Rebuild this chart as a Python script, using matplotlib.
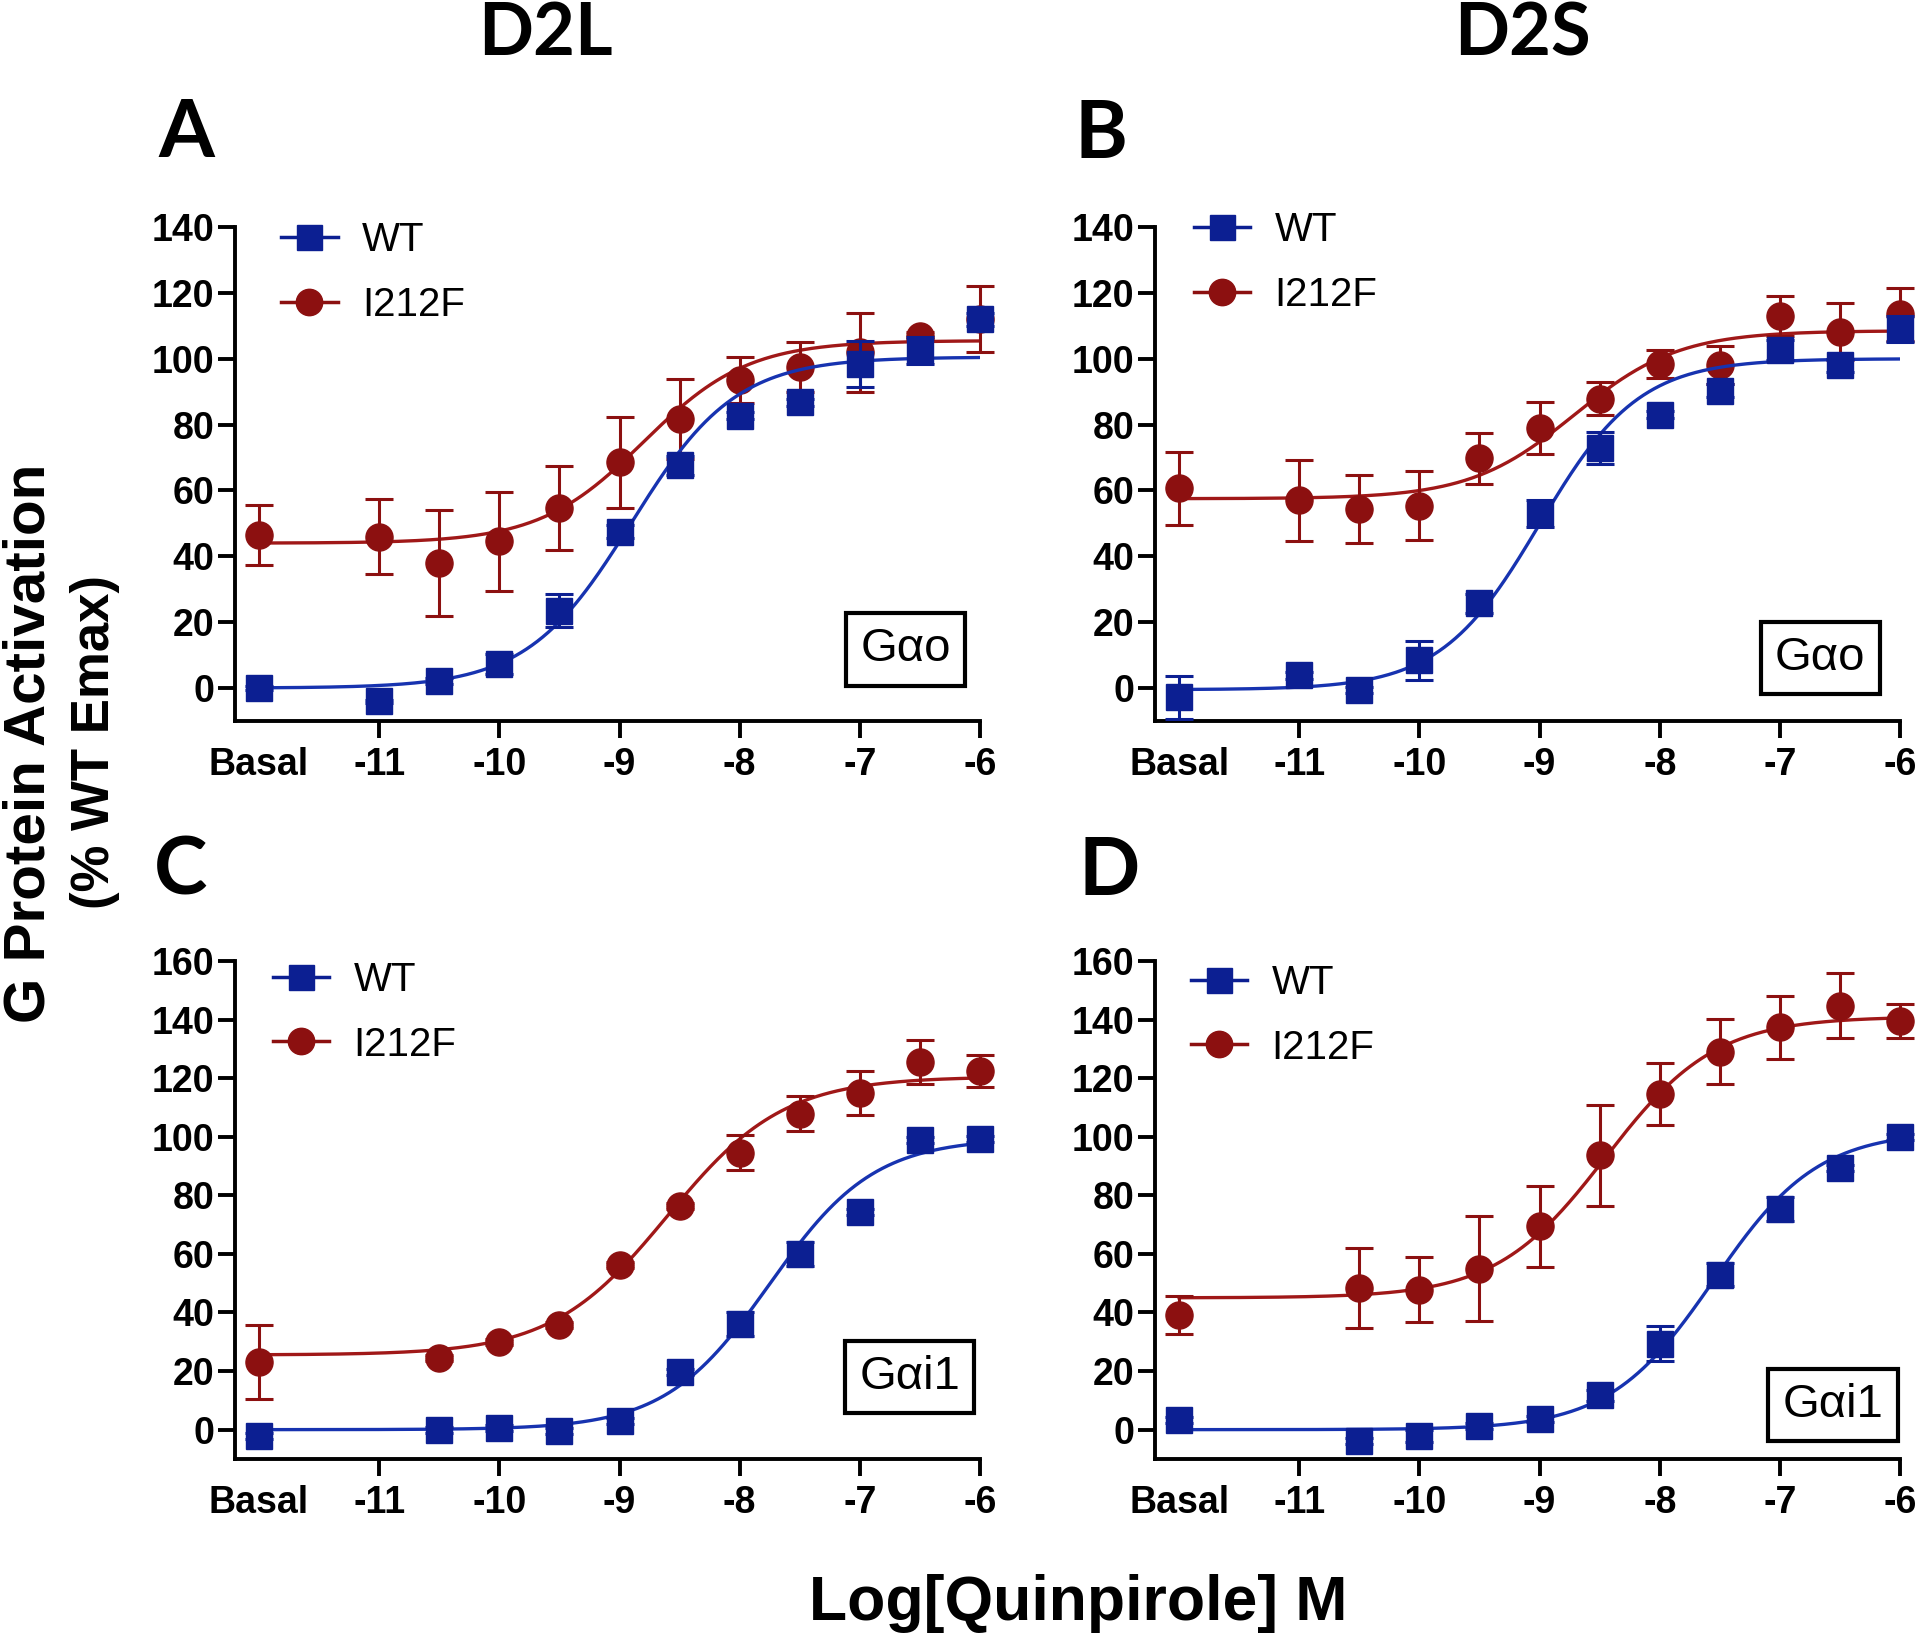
import matplotlib.pyplot as plt
from matplotlib.lines import Line2D
import numpy as np

plt.rcParams['font.family'] = ['Liberation Sans', 'DejaVu Sans']

# log[quinpirole]; "Basal" is plotted at -12
x_ab = [-12, -11, -10.5, -10, -9.5, -9, -8.5, -8, -7.5, -7, -6.5, -6]
x_cd = [-12, -10.5, -10, -9.5, -9, -8.5, -8, -7.5, -7, -6.5, -6]
xtick_vals = [-12, -11, -10, -9, -8, -7, -6]
xtick_labels = ['Basal', '-11', '-10', '-9', '-8', '-7', '-6']

# A: D2L, Gao
a_wt = [0, -4, 2.2, 7.3, 23.5, 47.5, 67.6, 82.7, 86.8, 98.5, 102.5, 112]
a_wt_err = [0.5, 0.5, 1, 3, 5, 2, 3, 1, 1, 7, 4, 2]
a_mut = [46.5, 46, 38, 44.6, 54.7, 68.5, 81.7, 93.5, 97.5, 102, 107, 112]
a_mut_err = [9, 11.5, 16, 15, 12.7, 13.8, 12, 7, 7.5, 12, 1, 10]
# B: D2S, Gao
b_wt = [-2.8, 3.9, -0.6, 8.4, 25.7, 53, 72.9, 83, 90.3, 102.6, 98, 109]
b_wt_err = [6.5, 1, 1, 6, 3, 4, 5, 1, 2, 3, 2, 4]
b_mut = [60.6, 57, 54.3, 55.4, 69.8, 79, 87.8, 98.4, 98, 113, 108.2, 113.5]
b_mut_err = [11, 12.3, 10.3, 10.4, 7.7, 7.8, 5, 4.3, 5.8, 6, 8.6, 8]
# C: D2L, Gai1
c_wt = [-2.3, 0, 0.6, -0.6, 3.1, 19.8, 36.1, 60, 74.2, 99, 99.3]
c_wt_err = [1, 1, 1, 1, 1, 1, 4, 4, 1, 1, 1]
c_mut = [23, 24.4, 29.9, 35.8, 56.3, 76.5, 94.6, 107.8, 115, 125.4, 122.4]
c_mut_err = [12.6, 1, 1, 1, 1, 1, 6, 6, 7.6, 7.5, 5.5]
# D: D2S, Gai1
d_wt = [3.3, -3.9, -2.2, 1.3, 3.5, 11.7, 29.4, 52.9, 75.4, 89.3, 100]
d_wt_err = [1, 1, 2, 1, 1, 2, 6, 4, 4, 1, 1]
d_mut = [39.3, 48.4, 47.8, 55, 69.4, 93.6, 114.5, 129.1, 137.3, 144.8, 139.6]
d_mut_err = [6.5, 13.6, 11, 17.9, 13.7, 17.2, 10.6, 11, 10.7, 11, 5.8]

# fitted curves: bottom, top, logEC50, hill slope
a_wt_fit = [0, 100.5, -8.9, 1.0]
a_mut_fit = [44, 105.5, -8.8, 1.0]
b_wt_fit = [-0.5, 100, -9.0, 1.05]
b_mut_fit = [57.5, 108.5, -8.71, 1.0]
c_wt_fit = [0, 99.5, -7.75, 1.0]
c_mut_fit = [25.5, 120.5, -8.6, 0.9]
d_wt_fit = [0, 102, -7.55, 1.0]
d_mut_fit = [45, 141, -8.45, 0.95]

BLUE = '#0c1f92'
BLUE_LINE = '#1733b0'
RED = '#8c1010'
RED_LINE = '#a01818'


def curve(p, x):
    bottom, top, logec50, hill = p
    return bottom + (top - bottom) / (1 + 10 ** ((logec50 - x) * hill))


panels = [
    # rect, x, wt, wt_err, mut, mut_err, fits, ymax, legend anchor, box pos, label
    ([0.1224, 0.5617, 0.388, 0.3003], x_ab, a_wt, a_wt_err, a_mut, a_mut_err,
     a_wt_fit, a_mut_fit, 140, (0.062, 1.012), (0.90, 0.145), 'G\u03b1o'),
    ([0.6016, 0.5617, 0.388, 0.3003], x_ab, b_wt, b_wt_err, b_mut, b_mut_err,
     b_wt_fit, b_mut_fit, 140, (0.052, 1.032), (0.893, 0.127), 'G\u03b1o'),
    ([0.1224, 0.1131, 0.388, 0.3027], x_cd, c_wt, c_wt_err, c_mut, c_mut_err,
     c_wt_fit, c_mut_fit, 160, (0.051, 1.000), (0.906, 0.165), 'G\u03b1i1'),
    ([0.6016, 0.1131, 0.388, 0.3027], x_cd, d_wt, d_wt_err, d_mut, d_mut_err,
     d_wt_fit, d_mut_fit, 160, (0.048, 0.994), (0.91, 0.109), 'G\u03b1i1'),
]

fig = plt.figure(figsize=(19.2, 16.45), dpi=100)
xs = np.linspace(-12, -6, 400)

for (rect, x, wt, wt_err, mut, mut_err, wt_fit, mut_fit, ymax,
     leg_pos, box_pos, gname) in panels:
    ax = fig.add_axes(rect)
    ax.plot(xs, curve(mut_fit, xs), color=RED_LINE, lw=2.4, zorder=2)
    ax.errorbar(x, mut, yerr=mut_err, fmt='o', color=RED, ms=19.5,
                elinewidth=2.2, capsize=10, capthick=2.2, clip_on=False, zorder=3)
    ax.plot(xs, curve(wt_fit, xs), color=BLUE_LINE, lw=2.4, zorder=4)
    ax.errorbar(x, wt, yerr=wt_err, fmt='s', color=BLUE, ms=18.5,
                elinewidth=2.2, capsize=10, capthick=2.2, clip_on=False, zorder=5)

    ax.set_xlim(-12.2, -6)
    ax.set_ylim(-10, ymax)
    ax.set_yticks(range(0, ymax + 1, 20))
    ax.set_xticks(xtick_vals)
    ax.set_xticklabels(xtick_labels)
    ax.xaxis.get_major_ticks()[0].tick1line.set_visible(False)
    for s in ['top', 'right']:
        ax.spines[s].set_visible(False)
    for s in ['left', 'bottom']:
        ax.spines[s].set_linewidth(2.8)
    ax.tick_params(axis='both', direction='out', length=12, width=2.8,
                   labelsize=27)
    ax.tick_params(axis='x', pad=7)
    ax.tick_params(axis='y', pad=3)
    for lab in ax.get_xticklabels() + ax.get_yticklabels():
        lab.set_fontweight('bold')

    handles = [Line2D([], [], color=BLUE, marker='s', ms=18, lw=2.5),
               Line2D([], [], color=RED, marker='o', ms=19, lw=2.5)]
    ax.legend(handles, ['WT', 'I212F'], loc='upper left', bbox_to_anchor=leg_pos,
              frameon=False, fontsize=29, handlelength=1.4, handletextpad=0.6,
              labelspacing=0.66, borderpad=0, borderaxespad=0)

    ax.text(box_pos[0], box_pos[1], gname, transform=ax.transAxes, fontsize=34,
            ha='center', va='center',
            bbox=dict(boxstyle='square,pad=0.3', fc='white', ec='black', lw=3))

# column titles and panel letters
fig.text(0.284, 0.979, 'D2L', fontsize=52, fontweight='bold', family='Lato',
         ha='center', va='center')
fig.text(0.793, 0.979, 'D2S', fontsize=52, fontweight='bold', family='Lato',
         ha='center', va='center')
for lx, ly, letter in [(0.0969, 0.9185, 'A'), (0.5734, 0.918, 'B'),
                       (0.0943, 0.470, 'C'), (0.5777, 0.470, 'D')]:
    fig.text(lx, ly, letter, fontsize=58, fontweight='bold', family='Lato',
             ha='center', va='center')

# shared axis labels
fig.text(0.0155, 0.548, 'G Protein Activation', rotation=90, fontsize=42,
         fontweight='bold', ha='center', va='center')
fig.text(0.0495, 0.549, '(% WT Emax)', rotation=90, fontsize=38,
         fontweight='bold', ha='center', va='center')
fig.text(0.5615, 0.025, 'Log[Quinpirole] M', fontsize=45, fontweight='bold',
         ha='center', va='center')

fig.savefig('out.png', dpi=100)
